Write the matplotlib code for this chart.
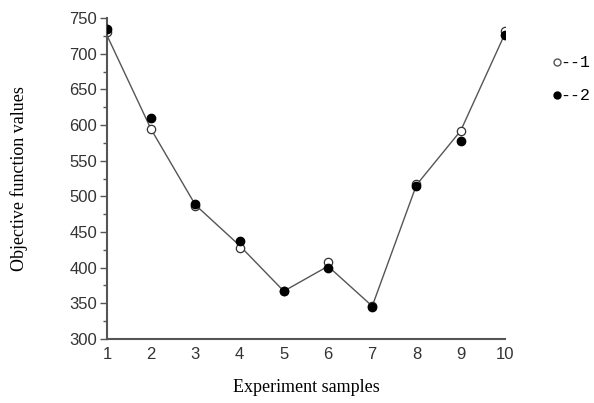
import matplotlib
matplotlib.use("Agg")
import matplotlib.pyplot as plt
from matplotlib.ticker import MultipleLocator

samples = [1, 2, 3, 4, 5, 6, 7, 8, 9, 10]
series_1 = [730, 595, 487, 428, 367, 408, 346, 518, 592, 732]
series_2 = [735, 610, 489, 437, 367, 400, 345, 514, 577, 726]
trend = [726, 594, 488, 431, 367, 402, 346, 516, 592, 728]

fig = plt.figure(figsize=(5.94, 4.03), dpi=100)
ax = fig.add_axes([0.180, 0.159, 0.670, 0.796])

ax.plot(samples, trend, color='#555555', linewidth=1.0, zorder=1)
ax.plot(samples, series_1, linestyle='none', marker='o', markersize=6,
        markerfacecolor='white', markeredgecolor='#333333', markeredgewidth=0.9, zorder=2)
ax.plot(samples, series_2, linestyle='none', marker='o', markersize=6,
        markerfacecolor='black', markeredgecolor='black', zorder=3)

ax.set_xlim(1, 10)
ax.set_ylim(300, 750)
ax.set_xticks(samples)
ax.yaxis.set_major_locator(MultipleLocator(50))
ax.yaxis.set_minor_locator(MultipleLocator(25))
ax.tick_params(axis='y', which='major', direction='out', length=5, width=1,
               color='#555555', labelsize=12, pad=2)
ax.tick_params(axis='y', which='minor', direction='out', length=3, width=1,
               color='#555555')
ax.tick_params(axis='x', length=0, labelsize=12, pad=6)
for lbl in ax.get_xticklabels() + ax.get_yticklabels():
    lbl.set_fontfamily('Liberation Sans')
    lbl.set_color('#333333')

for side in ('top', 'right'):
    ax.spines[side].set_visible(False)
for side in ('left', 'bottom'):
    ax.spines[side].set_color('#555555')
    ax.spines[side].set_linewidth(1.5)

ax.set_xlabel('Experiment samples', fontfamily='Liberation Serif', fontsize=13, labelpad=12)
ax.set_ylabel('Objective function values', fontfamily='Liberation Serif', fontsize=13, labelpad=30)

# legend drawn by hand, as in the original figure
fig.lines.append(plt.Line2D([0.937], [0.846], transform=fig.transFigure, marker='o',
                            markersize=5, markerfacecolor='white', markeredgecolor='#555555'))
fig.lines.append(plt.Line2D([0.937], [0.764], transform=fig.transFigure, marker='o',
                            markersize=5, markerfacecolor='black', markeredgecolor='black'))
fig.text(0.944, 0.846, '--1', fontfamily='Liberation Mono', fontsize=12, va='center')
fig.text(0.944, 0.764, '--2', fontfamily='Liberation Mono', fontsize=12, va='center')

fig.savefig('out.png', dpi=100)
